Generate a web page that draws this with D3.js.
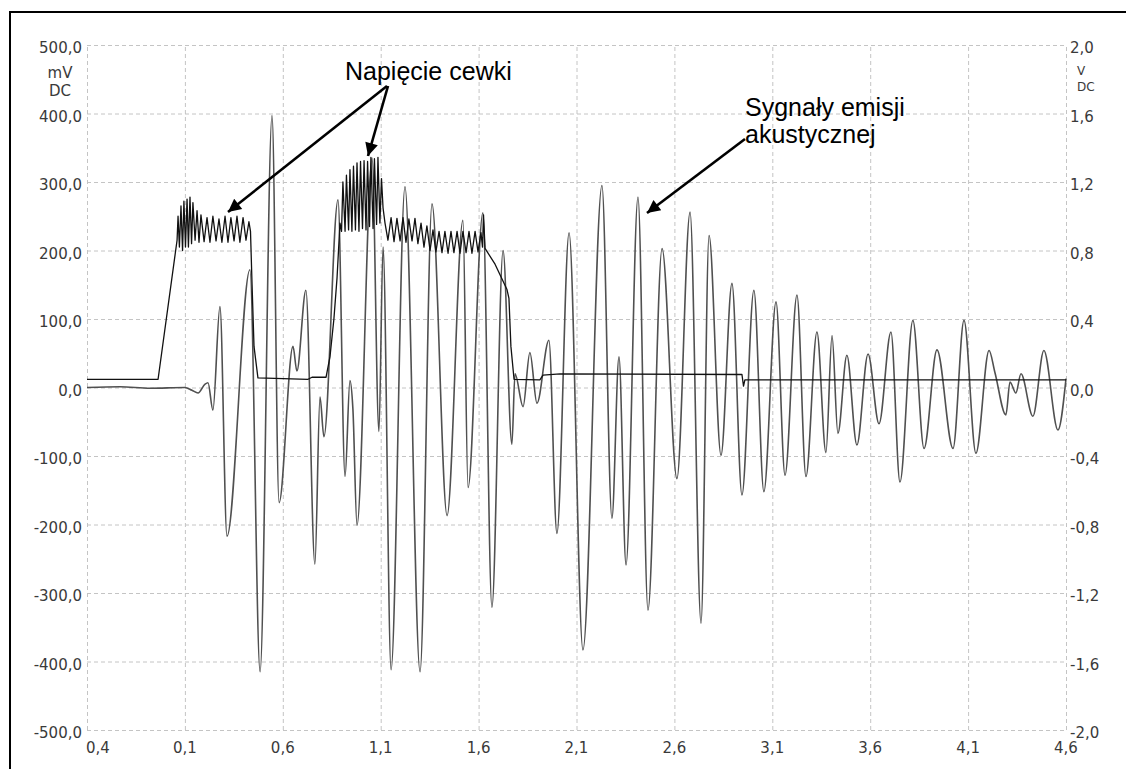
<!DOCTYPE html>
<html>
<head>
<meta charset="utf-8">
<script src="https://cdn.jsdelivr.net/npm/d3@7"></script>
<style>
  html, body { margin: 0; padding: 0; background: #fff; overflow: hidden; }
  svg { display: block; }
</style>
</head>
<body>
<svg id="chart" width="1126" height="769"></svg>
<script>
// ---------- DATA ----------
const xTickValues = [-0.4, 0.1, 0.6, 1.1, 1.6, 2.1, 2.6, 3.1, 3.6, 4.1, 4.6];
const xTickLabels = ["0,4", "0,1", "0,6", "1,1", "1,6", "2,1", "2,6", "3,1", "3,6", "4,1", "4,6"];
const leftTickValues = [500, 400, 300, 200, 100, 0, -100, -200, -300, -400, -500];
const leftTickLabels = ["500,0", "400,0", "300,0", "200,0", "100,0", "0,0", "-100,0", "-200,0", "-300,0", "-400,0", "-500,0"];
const rightTickValues = [2.0, 1.6, 1.2, 0.8, 0.4, 0.0, -0.4, -0.8, -1.2, -1.6, -2.0];
const rightTickLabels = ["2,0", "1,6", "1,2", "0,8", "0,4", "0,0", "-0,4", "-0,8", "-1,2", "-1,6", "-2,0"];

// Coil voltage (left axis, mV)
const coilTime = [-0.400, -0.037, 0.060, 0.065, 0.072, 0.080, 0.088, 0.095, 0.103, 0.111, 0.118, 0.126, 0.134, 0.141, 0.152, 0.162, 0.172, 0.182, 0.198, 0.213, 0.228, 0.243, 0.259, 0.274, 0.289, 0.305, 0.320, 0.335, 0.351, 0.366, 0.381, 0.397, 0.412, 0.427, 0.435, 0.443, 0.453, 0.473, 0.729, 0.749, 0.821, 0.841, 0.861, 0.877, 0.892,
  0.900, 0.907, 0.918, 0.925, 0.936, 0.943, 0.953, 0.961, 0.971, 0.979, 0.989, 0.997, 1.007, 1.015, 1.025, 1.033, 1.043, 1.050, 1.061, 1.068, 1.079, 1.086, 1.096, 1.104, 1.112, 1.122,
  1.137, 1.153, 1.168, 1.183, 1.199, 1.214, 1.229, 1.244, 1.260, 1.275, 1.290, 1.306, 1.321, 1.336, 1.352, 1.367, 1.382, 1.398, 1.413, 1.428, 1.444, 1.459, 1.474, 1.490, 1.505, 1.520, 1.536, 1.551, 1.566, 1.582, 1.597, 1.612, 1.620, 1.625, 1.633,
  1.684, 1.745, 1.755, 1.765, 1.781, 1.913, 1.929, 2.016, 2.945, 2.953, 2.960, 4.600];
const coilMV = [12, 12, 215, 250, 205, 265, 200, 272, 205, 275, 205, 278, 210, 270, 215, 258, 212, 252, 213, 248, 212, 250, 214, 246, 212, 250, 212, 248, 214, 250, 212, 248, 215, 242, 228, 150, 60, 14, 12, 15, 15, 45, 100, 160, 240,
  228, 300, 228, 310, 230, 318, 228, 323, 230, 328, 228, 330, 232, 331, 230, 330, 235, 336, 232, 334, 238, 336, 240, 305, 262, 240,
  215, 248, 213, 247, 214, 248, 212, 246, 214, 247, 210, 240, 205, 236, 200, 230, 198, 228, 197, 228, 196, 228, 197, 228, 196, 228, 197, 228, 196, 228, 198, 226, 205, 252, 203,
  180, 143, 130, 60, 12, 11, 18, 20, 19, 2, 11, 11];

// Acoustic emission signal (right axis, V)
const aeTime = [-0.400, -0.231, -0.078, 0.100, 0.136, 0.167, 0.203, 0.218, 0.243, 0.279, 0.315, 0.432, 0.484, 0.545, 0.581, 0.652, 0.672, 0.718, 0.764, 0.790, 0.810, 0.882, 0.918, 0.943, 0.958, 0.979, 1.056, 1.091, 1.112, 1.153, 1.224, 1.301, 1.362, 1.439, 1.520, 1.546, 1.622, 1.668, 1.725, 1.770, 1.786, 1.827, 1.862, 1.898, 1.959, 2.000, 2.062, 2.133, 2.230, 2.281, 2.317, 2.353, 2.414, 2.465, 2.537, 2.613, 2.680, 2.736, 2.777, 2.838, 2.894, 2.945, 3.006, 3.057, 3.119, 3.165, 3.226, 3.272, 3.328, 3.374, 3.405, 3.435, 3.481, 3.532, 3.589, 3.645, 3.706, 3.752, 3.818, 3.875, 3.941, 4.023, 4.079, 4.140, 4.207, 4.237, 4.293, 4.314, 4.344, 4.370, 4.431, 4.487, 4.559, 4.600];
const aeVolts = [0.000, 0.004, -0.004, 0.000, -0.016, -0.032, 0.020, 0.028, -0.132, 0.472, -0.868, 0.688, -1.660, 1.588, -0.672, 0.240, 0.096, 0.568, -1.032, -0.056, -0.288, 1.096, -0.520, 0.040, -0.124, -0.804, 1.340, -0.256, 0.820, -1.648, 1.172, -1.660, 1.072, -0.748, 0.976, -0.584, 1.020, -1.284, 0.800, -0.332, 0.080, -0.112, 0.204, -0.092, 0.276, -0.852, 0.904, -1.532, 1.180, -0.764, 0.180, -1.036, 1.112, -1.300, 0.812, -0.532, 1.024, -1.376, 0.888, -0.396, 0.608, -0.628, 0.568, -0.608, 0.500, -0.512, 0.540, -0.520, 0.324, -0.380, 0.304, -0.268, 0.188, -0.336, 0.196, -0.212, 0.324, -0.552, 0.392, -0.356, 0.220, -0.356, 0.392, -0.384, 0.216, 0.088, -0.160, 0.032, -0.032, 0.080, -0.168, 0.216, -0.248, 0.052];

// ---------- DRAW ----------
const svg = d3.select("#chart");
const tickFont = "'DejaVu Sans', Verdana, sans-serif";
const annFont = "'Liberation Sans', Arial, sans-serif";

const x = d3.scaleLinear().domain([-0.4, 4.6]).range([87, 1066]);
const yL = d3.scaleLinear().domain([-500, 500]).range([730, 45]);
const yR = d3.scaleLinear().domain([-2, 2]).range([730, 45]);

svg.append("rect").attr("width", 1126).attr("height", 769).attr("fill", "#fff");

// Grid via axis generators
const gx = svg.append("g").attr("transform", "translate(0,730)")
  .call(d3.axisBottom(x).tickValues(xTickValues).tickSize(-685).tickFormat(""));
const gy = svg.append("g").attr("transform", "translate(87,0)")
  .call(d3.axisLeft(yL).tickValues(leftTickValues).tickSize(-979).tickFormat(""));
[gx, gy].forEach(g => {
  g.select(".domain").remove();
  g.selectAll(".tick line").attr("stroke", "#c4c4c4").attr("stroke-width", 1).attr("stroke-dasharray", "4,3");
});

// Tick labels
svg.append("g").selectAll("text").data(leftTickValues).join("text")
  .attr("x", 82).attr("y", d => yL(d) + 3.5)
  .attr("dominant-baseline", "middle").attr("text-anchor", "end")
  .attr("font-family", tickFont).attr("font-size", 15).attr("fill", "#3a3a3a")
  .text((d, i) => leftTickLabels[i]);
svg.append("g").selectAll("text").data(rightTickValues).join("text")
  .attr("x", 1070).attr("y", d => yR(d) + 3.5)
  .attr("dominant-baseline", "middle").attr("text-anchor", "start")
  .attr("font-family", tickFont).attr("font-size", 15).attr("fill", "#3a3a3a")
  .text((d, i) => rightTickLabels[i]);
svg.append("g").selectAll("text").data(xTickValues).join("text")
  .attr("x", (d, i) => i === 0 ? x(d) - 1 : x(d)).attr("y", 753)
  .attr("text-anchor", (d, i) => i === 0 ? "start" : "middle")
  .attr("font-family", tickFont).attr("font-size", 15).attr("fill", "#3a3a3a")
  .text((d, i) => xTickLabels[i]);

// Units
svg.append("text").attr("x", 60).attr("y", 78).attr("text-anchor", "middle")
  .attr("font-family", tickFont).attr("font-size", 15).attr("fill", "#3a3a3a").text("mV");
svg.append("text").attr("x", 60).attr("y", 96).attr("text-anchor", "middle")
  .attr("font-family", tickFont).attr("font-size", 15).attr("fill", "#3a3a3a").text("DC");
svg.append("text").attr("x", 1077).attr("y", 75).attr("text-anchor", "start")
  .attr("font-family", tickFont).attr("font-size", 12).attr("fill", "#3a3a3a").text("V");
svg.append("text").attr("x", 1077).attr("y", 91).attr("text-anchor", "start")
  .attr("font-family", tickFont).attr("font-size", 12).attr("fill", "#3a3a3a").text("DC");

// Series
const aeData = aeTime.map((t, i) => ({ t, v: aeVolts[i] }));
const coilData = coilTime.map((t, i) => ({ t, v: coilMV[i] }));

svg.append("path").datum(aeData)
  .attr("fill", "none").attr("stroke", "#505050").attr("stroke-width", 1.6)
  .attr("stroke-linejoin", "round")
  .attr("d", d3.line().curve(d3.curveMonotoneX).x(d => x(d.t)).y(d => yR(d.v)));

svg.append("path").datum(coilData)
  .attr("fill", "none").attr("stroke", "#111").attr("stroke-width", 1.3)
  .attr("stroke-linejoin", "round")
  .attr("d", d3.line().x(d => x(d.t)).y(d => yL(d.v)));

// Annotations
const defs = svg.append("defs");
defs.append("marker").attr("id", "ah").attr("viewBox", "0 0 10 10")
  .attr("refX", 10).attr("refY", 5).attr("markerWidth", 6).attr("markerHeight", 5)
  .attr("markerUnits", "strokeWidth").attr("orient", "auto")
  .append("path").attr("d", "M0,0 L10,5 L0,10 Z").attr("fill", "#000");

const arrows = [
  [387, 86, 228, 212],
  [388, 86, 368, 156],
  [745, 139, 647, 213]
];
svg.append("g").selectAll("line").data(arrows).join("line")
  .attr("x1", d => d[0]).attr("y1", d => d[1]).attr("x2", d => d[2]).attr("y2", d => d[3])
  .attr("stroke", "#000").attr("stroke-width", 2.6).attr("marker-end", "url(#ah)");

svg.append("text").attr("x", 345).attr("y", 80).attr("font-family", annFont).attr("font-size", 25)
  .attr("fill", "#000").text("Napięcie cewki");
svg.append("text").attr("x", 745).attr("y", 116).attr("font-family", annFont).attr("font-size", 25)
  .attr("fill", "#000").text("Sygnały emisji");
svg.append("text").attr("x", 745).attr("y", 143).attr("font-family", annFont).attr("font-size", 25)
  .attr("fill", "#000").text("akustycznej");

// Frame
svg.append("rect").attr("x", 10).attr("y", 12).attr("width", 1300).attr("height", 900)
  .attr("fill", "none").attr("stroke", "#000").attr("stroke-width", 2);
</script>
</body>
</html>
